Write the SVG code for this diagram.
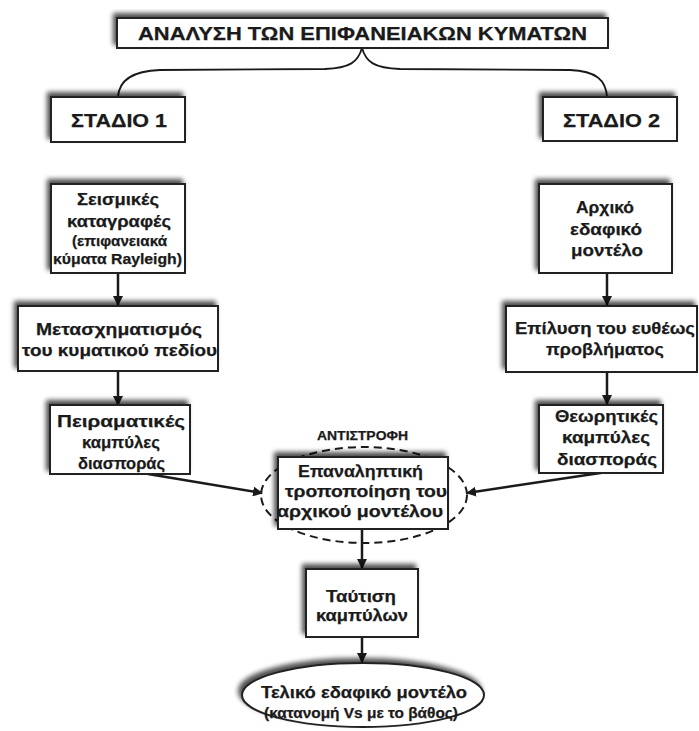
<svg xmlns="http://www.w3.org/2000/svg" width="699" height="731" viewBox="0 0 699 731">
<defs>
<filter id="sh" x="-20%" y="-30%" width="140%" height="160%">
<feGaussianBlur in="SourceAlpha" stdDeviation="2.5" result="b"/>
<feOffset in="b" dx="-3" dy="-4" result="o"/>
<feComponentTransfer in="o" result="oc"><feFuncA type="linear" slope="0.7"/></feComponentTransfer>
<feMerge><feMergeNode in="oc"/><feMergeNode in="SourceGraphic"/></feMerge>
</filter>
<marker id="ah" viewBox="0 0 10 10" refX="9" refY="5" markerWidth="4" markerHeight="4" orient="auto" markerUnits="strokeWidth">
<path d="M0,0 L10,5 L0,10 Z" fill="#1a1a1a"/>
</marker>
</defs>
<style>
.box{fill:#fff;stroke:#222;stroke-width:2;filter:url(#sh)}
.t{font-family:"Liberation Sans",Arial,sans-serif;font-weight:bold;fill:#1a1a1a;stroke:#1a1a1a;stroke-width:0.25;text-anchor:middle}
.ln{fill:none;stroke:#1a1a1a;stroke-width:2.5}
.br{fill:none;stroke:#1a1a1a;stroke-width:1.8}
</style>
<rect width="699" height="731" fill="#fff"/>

<g id="connectors">
<path class="br" d="M362,48 C358,62 350,68 325,69 L160,70 C132,71 119,80 118,97"/>
<path class="br" d="M362,48 C366,62 374,68 400,69 L570,70 C596,71 606,80 607,97"/>
<line class="ln" x1="118" y1="273" x2="118" y2="305" marker-end="url(#ah)"/>
<line class="ln" x1="118" y1="371" x2="118" y2="405" marker-end="url(#ah)"/>
<line class="ln" x1="607" y1="273" x2="607" y2="305" marker-end="url(#ah)"/>
<line class="ln" x1="607" y1="372" x2="607" y2="404" marker-end="url(#ah)"/>
<line class="ln" x1="148" y1="474" x2="262" y2="493" marker-end="url(#ah)"/>
<line class="ln" x1="607" y1="472" x2="467" y2="493" marker-end="url(#ah)"/>
<line class="ln" x1="362" y1="529" x2="362" y2="568" marker-end="url(#ah)"/>
<line class="ln" x1="362" y1="637" x2="362" y2="662" marker-end="url(#ah)"/>
</g>

<g id="title">
<rect class="box" x="117" y="18" width="491" height="30"/>
<text class="t" x="362.5" y="40" font-size="18" textLength="449" lengthAdjust="spacingAndGlyphs">ΑΝΑΛΥΣΗ ΤΩΝ ΕΠΙΦΑΝΕΙΑΚΩΝ ΚΥΜΑΤΩΝ</text>
</g>

<g id="stage1">
<rect class="box" x="51" y="97" width="134" height="45"/>
<text class="t" x="119" y="127" font-size="19" textLength="96" lengthAdjust="spacingAndGlyphs">ΣΤΑΔΙΟ 1</text>
</g>

<g id="stage2">
<rect class="box" x="543" y="97" width="134" height="44"/>
<text class="t" x="611.5" y="127" font-size="19" textLength="97" lengthAdjust="spacingAndGlyphs">ΣΤΑΔΙΟ 2</text>
</g>

<g id="seismic">
<rect class="box" x="51" y="184" width="134" height="89"/>
<text class="t" x="118" y="205" font-size="17" textLength="82" lengthAdjust="spacingAndGlyphs">Σεισμικές</text>
<text class="t" x="119" y="227" font-size="17" textLength="104" lengthAdjust="spacingAndGlyphs">καταγραφές</text>
<text class="t" x="119.5" y="246" font-size="14" textLength="95" lengthAdjust="spacingAndGlyphs">(επιφανειακά</text>
<text class="t" x="117.5" y="264" font-size="14" textLength="129" lengthAdjust="spacingAndGlyphs">κύματα Rayleigh)</text>
</g>

<g id="initial">
<rect class="box" x="539" y="184" width="133" height="89"/>
<text class="t" x="605" y="213" font-size="17" textLength="58" lengthAdjust="spacingAndGlyphs">Αρχικό</text>
<text class="t" x="606" y="235" font-size="17" textLength="72" lengthAdjust="spacingAndGlyphs">εδαφικό</text>
<text class="t" x="607" y="256" font-size="17" textLength="72" lengthAdjust="spacingAndGlyphs">μοντέλο</text>
</g>

<g id="transform">
<rect class="box" x="18" y="306" width="200" height="65"/>
<text class="t" x="119" y="335" font-size="17" textLength="166" lengthAdjust="spacingAndGlyphs">Μετασχηματισμός</text>
<text class="t" x="119.5" y="356" font-size="17" textLength="195" lengthAdjust="spacingAndGlyphs">του κυματικού πεδίου</text>
</g>

<g id="forward">
<rect class="box" x="506" y="306" width="191" height="66"/>
<text class="t" x="605" y="334" font-size="17" textLength="180" lengthAdjust="spacingAndGlyphs">Επίλυση του ευθέως</text>
<text class="t" x="605" y="355" font-size="17" textLength="118" lengthAdjust="spacingAndGlyphs">προβλήματος</text>
</g>

<g id="experimental">
<rect class="box" x="50" y="405" width="140" height="69"/>
<text class="t" x="121" y="427" font-size="17" textLength="128" lengthAdjust="spacingAndGlyphs">Πειραματικές</text>
<text class="t" x="121" y="448" font-size="17" textLength="78" lengthAdjust="spacingAndGlyphs">καμπύλες</text>
<text class="t" x="121.5" y="469" font-size="17" textLength="87" lengthAdjust="spacingAndGlyphs">διασποράς</text>
</g>

<g id="theoretical">
<rect class="box" x="539" y="405" width="124" height="68"/>
<text class="t" x="606.5" y="422" font-size="17" textLength="103" lengthAdjust="spacingAndGlyphs">Θεωρητικές</text>
<text class="t" x="606" y="443" font-size="17" textLength="88" lengthAdjust="spacingAndGlyphs">καμπύλες</text>
<text class="t" x="607" y="465" font-size="17" textLength="100" lengthAdjust="spacingAndGlyphs">διασποράς</text>
</g>

<g id="inversion">
<ellipse cx="364" cy="495" rx="103" ry="48" fill="none" stroke="#1a1a1a" stroke-width="2" stroke-dasharray="8,5"/>
<text class="t" x="362.5" y="440" font-size="12" textLength="91" lengthAdjust="spacingAndGlyphs">ΑΝΤΙΣΤΡΟΦΗ</text>
<rect class="box" x="278" y="457" width="170" height="72"/>
<text class="t" x="360.5" y="477" font-size="16" textLength="125" lengthAdjust="spacingAndGlyphs">Επαναληπτική</text>
<text class="t" x="366" y="497" font-size="16" textLength="162" lengthAdjust="spacingAndGlyphs">τροποποίηση του</text>
<text class="t" x="360" y="517" font-size="16" textLength="166" lengthAdjust="spacingAndGlyphs">αρχικού μοντέλου</text>
</g>

<g id="matching">
<rect class="box" x="306" y="569" width="112" height="68"/>
<text class="t" x="361" y="602" font-size="17" textLength="70" lengthAdjust="spacingAndGlyphs">Ταύτιση</text>
<text class="t" x="362" y="621" font-size="17" textLength="92" lengthAdjust="spacingAndGlyphs">καμπύλων</text>
</g>

<g id="final">
<ellipse class="box" cx="363" cy="695" rx="121" ry="32"/>
<text class="t" x="364" y="698" font-size="17" textLength="206" lengthAdjust="spacingAndGlyphs">Τελικό εδαφικό μοντέλο</text>
<text class="t" x="361" y="718" font-size="14" textLength="194" lengthAdjust="spacingAndGlyphs">(κατανομή Vs με το βάθος)</text>
</g>
</svg>
